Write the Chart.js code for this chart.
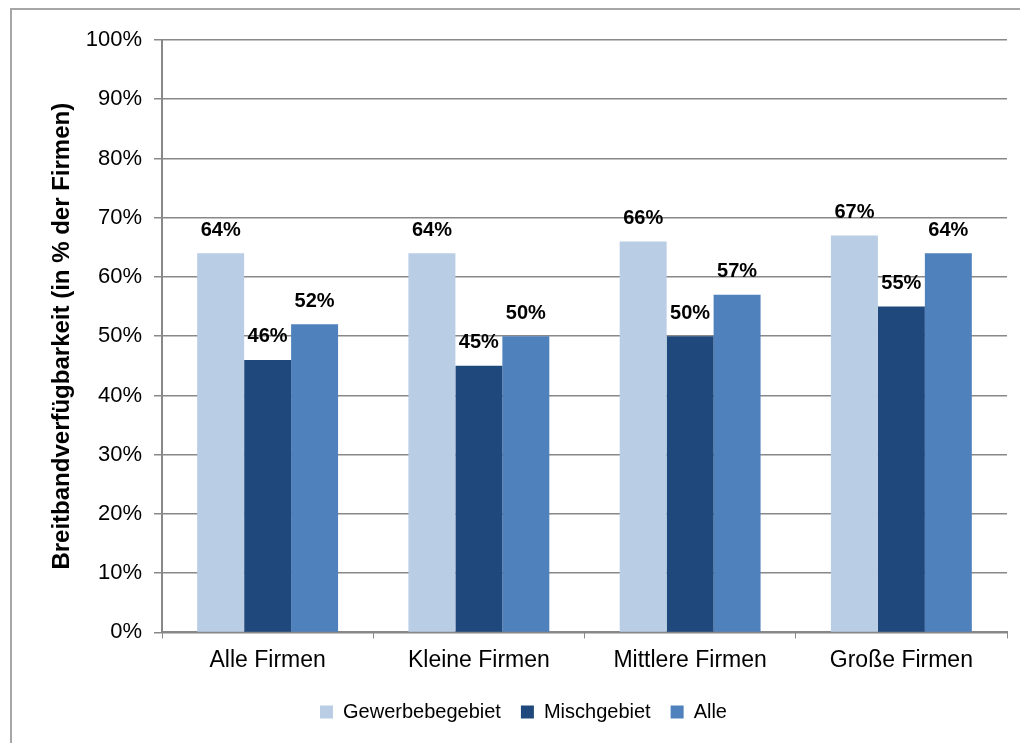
<!DOCTYPE html>
<html>
<head>
<meta charset="utf-8">
<script src="https://cdn.jsdelivr.net/npm/chart.js@4"></script>
<style>
  body { margin: 0; background: #fff; }
  #wrap { width: 1020px; height: 743px; position: relative; }
</style>
</head>
<body>
<div id="wrap"><canvas id="chart" width="1020" height="743"></canvas></div>
<script>
// categories and series
const categories = ['Alle Firmen', 'Kleine Firmen', 'Mittlere Firmen', 'Große Firmen'];
const gewerbegebiet = [64, 64, 66, 67];
const mischgebiet = [46, 45, 50, 55];
const alle = [52, 50, 57, 64];
const seriesNames = ['Gewerbebegebiet', 'Mischgebiet', 'Alle'];
const seriesColors = ['#B9CDE5', '#1F497D', '#4F81BD'];

const fontFam = '"Liberation Sans", Arial, sans-serif';
const gridGray = '#888888';

// outer frame (only left/top are visible in the reference)
const framePlugin = {
  id: 'frame',
  beforeDraw(chart) {
    const ctx = chart.ctx;
    ctx.save();
    ctx.strokeStyle = '#a6a6a6';
    ctx.lineWidth = 2;
    ctx.strokeRect(11, 9, 1040, 800);
    ctx.restore();
  }
};

// value labels above each bar
const valueLabels = {
  id: 'valueLabels',
  afterDatasetsDraw(chart) {
    const ctx = chart.ctx;
    ctx.save();
    ctx.font = 'bold 20px ' + fontFam;
    ctx.fillStyle = '#000';
    ctx.textAlign = 'center';
    ctx.textBaseline = 'middle';
    chart.data.datasets.forEach((ds, i) => {
      chart.getDatasetMeta(i).data.forEach((bar, j) => {
        ctx.fillText(ds.data[j] + '%', bar.x, bar.y - 23);
      });
    });
    ctx.restore();
  }
};

new Chart(document.getElementById('chart'), {
  type: 'bar',
  data: {
    labels: categories,
    datasets: [gewerbegebiet, mischgebiet, alle].map((d, i) => ({
      label: seriesNames[i],
      data: d,
      backgroundColor: seriesColors[i],
      categoryPercentage: 0.667,
      barPercentage: 1.0
    }))
  },
  options: {
    responsive: false,
    animation: false,
    layout: { padding: { left: 40, right: 13, top: 40, bottom: 11 } },
    plugins: {
      legend: {
        position: 'bottom',
        labels: {
          boxWidth: 13,
          boxHeight: 13,
          color: '#000',
          padding: 20,
          font: { family: fontFam, size: 20 }
        }
      },
      tooltip: { enabled: false }
    },
    scales: {
      x: {
        grid: {
          drawOnChartArea: false,
          color: gridGray,
          tickLength: 6,
          offset: true
        },
        border: { color: gridGray, width: 2 },
        ticks: {
          color: '#000',
          padding: 8,
          font: { family: fontFam, size: 23 }
        }
      },
      y: {
        min: 0,
        max: 100,
        afterFit(scale) { scale.width = 122; },
        grid: { color: gridGray, tickLength: 8, lineWidth: 1.5 },
        border: { color: gridGray, width: 2 },
        ticks: {
          stepSize: 10,
          color: '#000',
          padding: 12,
          font: { family: fontFam, size: 22 },
          callback: v => v + '%'
        },
        title: {
          display: true,
          text: 'Breitbandverfügbarkeit (in % der Firmen)',
          color: '#000',
          font: { family: fontFam, size: 24, weight: 'bold' },
          padding: { top: 8, bottom: 0 }
        }
      }
    }
  },
  plugins: [framePlugin, valueLabels]
});
</script>
</body>
</html>
